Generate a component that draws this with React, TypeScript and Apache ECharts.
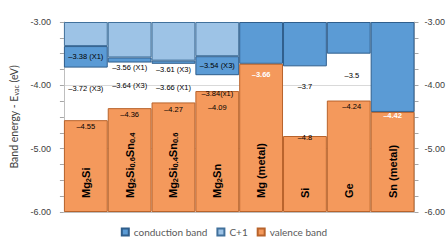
import React, { useEffect, useRef } from "react";
import * as echarts from "echarts";

// ---- data ----
const categories = ["Mg2Si", "Mg2Si0.6Sn0.4", "Mg2Si0.4Sn0.6", "Mg2Sn", "Mg (metal)", "Si", "Ge", "Sn (metal)"];
// bottom edge of the C+1 band (= top edge of the conduction band)
const cPlus1Bottom = [-3.38, -3.56, -3.61, -3.54, -3.0, -3.0, -3.0, -3.0];
// bottom edge of the conduction band
const cbBottom = [-3.72, -3.64, -3.66, -3.84, -3.66, -3.7, -3.5, -4.42];
// top edge of the valence band
const vbTop = [-4.55, -4.36, -4.27, -4.09, -3.66, -4.8, -4.24, -4.42];

const cbLabels = ["–3.38 (X1)", "–3.56 (X1)", "–3.61 (X3)", "–3.54 (X3)", "", "", "", ""];
const gapLabels = ["–3.72 (X3)", "–3.64 (X3)", "–3.66 (X1)", "–3.84(x1)", "", "–3.7", "–3.5", ""];
const vbLabels = ["–4.55", "–4.36", "–4.27", "–4.09", "–3.66", "–4.8", "–4.24", "–4.42"];

const axisMin = -6;
const axisMax = -3;
const axisTicks = [-6, -5, -4, -3];

// ---- label placement (styling) ----
const cbPlace: any[] = [
  { position: "inside" },
  { position: "bottom", distance: 1 },
  { position: "bottom", distance: 2 },
  { position: "inside" },
  null, null, null, null,
];
const gapPlace: any[] = [
  { position: "inside", offset: [0, -5] },
  { position: "inside" },
  { position: "inside", offset: [0, 4] },
  { position: "bottom", distance: 0, offset: [0, -2] },
  null,
  { position: "inside", offset: [0, -15] },
  { position: "inside", offset: [3, -2] },
  null,
];
const vbPlace: any[] = [
  { position: "insideTop", distance: 2 },
  { position: "insideTop", distance: 2 },
  { position: "insideTop", distance: 3 },
  { position: "insideTop", distance: 12.5 },
  { position: "insideTop", distance: 7, color: "#ffffff", fontWeight: "bold" },
  { position: "insideTop", distance: -3 },
  { position: "insideTop", distance: 2, offset: [3, 0] },
  { position: "insideTop", distance: 0, color: "#ffffff", fontWeight: "bold" },
];

const FONT = "'Liberation Sans', Arial, sans-serif";
const FONT2 = "Lato, 'Liberation Sans', sans-serif";

function richName(name: string): string {
  return name
    .split(/(\d+(?:\.\d+)?)/)
    .filter((p) => p.length > 0)
    .map((p) => (/^\d/.test(p) ? `{s|${p}}` : `{b|${p}}`))
    .join("");
}

function seg(values: number[], texts: string[], place: any[]) {
  return values.map((v, i) => {
    const val = Math.abs(v) < 1e-9 ? "-" : +v.toFixed(4);
    const t = texts[i];
    const p = place[i];
    return {
      value: val,
      label: t && p ? { show: true, formatter: t, ...p } : { show: false },
    };
  });
}

export default function App() {
  const ref = useRef<HTMLDivElement>(null);
  useEffect(() => {
    if (!ref.current) return;
    const chart = echarts.init(ref.current, undefined, { renderer: "svg" });

    const baseVals = categories.map(() => axisMax);
    const c1Vals = cPlus1Bottom.map((v) => v - axisMax);
    const cbVals = cbBottom.map((v, i) => v - cPlus1Bottom[i]);
    const gapVals = vbTop.map((v, i) => v - cbBottom[i]);
    const vbVals = vbTop.map((v) => axisMin - v);
    const empty = categories.map(() => "");
    const none = categories.map(() => null);

    const labelBase = {
      show: false,
      fontSize: 7.5,
      fontFamily: FONT,
      color: "#000000",
    };

    const yAxisCommon = {
      type: "value",
      min: axisMin,
      max: axisMax,
      interval: 1,
      axisLine: { show: true, lineStyle: { color: "#bfbfbf" } },
      axisTick: { show: true, length: 4, lineStyle: { color: "#a6a6a6" } },
      minorTick: { show: true, splitNumber: 4, length: 4, lineStyle: { color: "#a6a6a6" } },
      axisLabel: {
        fontSize: 9,
        fontFamily: FONT,
        color: "#404040",
        formatter: (v: number) => (axisTicks.includes(Math.round(v)) ? v.toFixed(2) : ""),
      },
    };

    chart.setOption({
      animation: false,
      backgroundColor: "#ffffff",
      grid: { left: 48, right: 33, top: 22, bottom: 40 },
      legend: {
        data: ["conduction band", "C+1", "valence band"],
        left: "center",
        top: 222,
        itemWidth: 7,
        itemHeight: 7,
        itemGap: 9,
        icon: "rect",
        textStyle: { fontSize: 10, fontFamily: FONT2, color: "#595959" },
      },
      xAxis: {
        type: "category",
        data: categories,
        axisLine: { show: true, lineStyle: { color: "#bfbfbf" } },
        axisTick: { show: false },
        axisLabel: {
          inside: true,
          rotate: 90,
          margin: 14,
          interval: 0,
          formatter: (v: string) => richName(v),
          rich: {
            b: { fontSize: 11, fontWeight: "bold", fontFamily: FONT, color: "#000000", lineHeight: 13 },
            s: {
              fontSize: 7.5,
              fontWeight: "bold",
              fontFamily: FONT,
              color: "#000000",
              lineHeight: 8,
              verticalAlign: "bottom",
            },
          },
        },
        z: 10,
      },
      yAxis: [
        {
          ...yAxisCommon,
          position: "left",
          axisLabel: { ...yAxisCommon.axisLabel, margin: 13 },
          splitLine: { show: true, lineStyle: { color: "#d9d9d9" } },
          name: "{t|Band energy - E}{s|vac}{t| (eV)}",
          nameLocation: "middle",
          nameRotate: 90,
          nameGap: 38,
          nameTextStyle: {
            rich: {
              t: { fontSize: 10.5, fontFamily: FONT2, color: "#404040", lineHeight: 12 },
              s: { fontSize: 7, fontFamily: FONT2, color: "#404040", lineHeight: 7, verticalAlign: "bottom" },
            },
          },
        },
        {
          ...yAxisCommon,
          position: "right",
          axisLabel: { ...yAxisCommon.axisLabel, margin: 10 },
          splitLine: { show: false },
        },
      ],
      series: [
        {
          name: "base",
          type: "bar",
          stack: "e",
          barCategoryGap: "0%",
          silent: true,
          itemStyle: { color: "transparent" },
          label: labelBase,
          data: seg(baseVals, empty, none),
        },
        {
          name: "C+1",
          type: "bar",
          stack: "e",
          barCategoryGap: "0%",
          itemStyle: { color: "#9dc3e6", borderColor: "#41719c", borderWidth: 1 },
          label: labelBase,
          data: seg(c1Vals, empty, none),
        },
        {
          name: "conduction band",
          type: "bar",
          stack: "e",
          barCategoryGap: "0%",
          itemStyle: { color: "#5b9bd5", borderColor: "#2f5e8c", borderWidth: 1 },
          label: labelBase,
          data: seg(cbVals, cbLabels, cbPlace),
        },
        {
          name: "gap",
          type: "bar",
          stack: "e",
          barCategoryGap: "0%",
          itemStyle: { color: "transparent" },
          label: labelBase,
          data: seg(gapVals, gapLabels, gapPlace),
        },
        {
          name: "valence band",
          type: "bar",
          stack: "e",
          barCategoryGap: "0%",
          itemStyle: { color: "#f4995c", borderColor: "#b8632b", borderWidth: 1 },
          label: labelBase,
          data: seg(vbVals, vbLabels, vbPlace),
        },
      ],
    });
    return () => chart.dispose();
  }, []);
  return <div ref={ref} style={{ position: "fixed", left: 0, top: 0, width: 448, height: 252 }} />;
}
